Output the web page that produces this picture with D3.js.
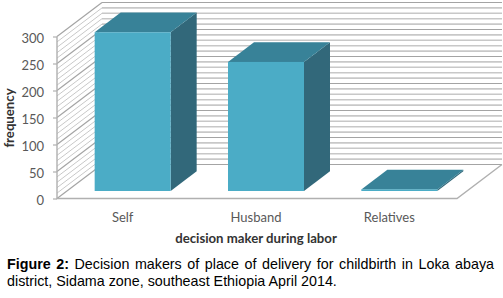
<!DOCTYPE html>
<html>
<head>
<meta charset="utf-8">
<script src="https://cdnjs.cloudflare.com/ajax/libs/d3/7.8.5/d3.min.js"></script>
<style>
html, body { margin: 0; padding: 0; background: #fff; }
svg { display: block; }
.tick-label { font-family: Lato, "Open Sans", sans-serif; font-size: 13px; fill: #595959; }
.axis-title { font-family: Lato, "Open Sans", sans-serif; font-size: 13.2px; font-weight: bold; fill: #333; }
.caption { font-family: "Liberation Sans", Arial, sans-serif; font-size: 14.3px; fill: #000; }
</style>
</head>
<body>
<div id="chart"></div>
<script>
var categories = ["Self", "Husband", "Relatives"];
var frequency = [294, 239, 3];
var yTicks = [0, 50, 100, 150, 200, 250, 300];
var gridValues = d3.range(0, 301, 10);

var width = 503, height = 298;
var depthX = 45, depthY = 34;       // how far the back wall sits from the front axis
var barDepth = 26, barInset = 9;    // bar depth and its distance from the front edge
var barWidth = 76;
var slope = depthY / depthX;

var x = d3.scaleBand().domain(categories).range([57, 457]);
var y = d3.scaleLinear().domain([0, 300]).range([198.5, 36.5]);

var svg = d3.select("#chart").append("svg").attr("width", width).attr("height", height);

var defs = svg.append("defs");
defs.append("filter").attr("id", "soft").append("feGaussianBlur").attr("stdDeviation", 0.35);

var chart = svg.append("g").attr("filter", "url(#soft)");

function gridColor(d) { return d % 50 === 0 ? "#a4a4a4" : "#c8c8c8"; }
function gridWidth(d) { return d % 50 === 0 ? 1.2 : 1.6; }

// back wall
chart.append("g").selectAll("line").data(gridValues).join("line")
    .attr("x1", x.range()[0] + depthX).attr("x2", x.range()[1] + depthX)
    .attr("y1", function (d) { return y(d) - depthY; })
    .attr("y2", function (d) { return y(d) - depthY; })
    .attr("stroke", gridColor).attr("stroke-width", gridWidth);

// left wall
chart.append("g").selectAll("line").data(gridValues).join("line")
    .attr("x1", x.range()[0]).attr("x2", x.range()[0] + depthX)
    .attr("y1", function (d) { return y(d); })
    .attr("y2", function (d) { return y(d) - depthY; })
    .attr("stroke", gridColor).attr("stroke-width", function (d) { return d % 50 === 0 ? 1.2 : 1; });

// floor outline and wall edges
var x0 = x.range()[0], x1 = x.range()[1], y0 = y(0), yTop = y(300);
chart.append("path")
    .attr("d", "M" + x0 + "," + yTop + "V" + y0 + "H" + x1 + "L" + (x1 + depthX) + "," + (y0 - depthY))
    .attr("fill", "none").attr("stroke", "#b0b0b0").attr("stroke-width", 1.4);

// bars
var bars = chart.append("g").selectAll("g").data(categories).join("g");

function barLeft(c) { return x(c) + x.bandwidth() / 2 - barWidth / 2 + barInset; }
function barBase() { return y(0) - 7.5; }
function barTop(c, i) { return y(frequency[i]) - 7.5; }

bars.append("path") // side
    .attr("fill", "#31687a")
    .attr("d", function (c, i) {
        var r = barLeft(c) + barWidth;
        return "M" + r + "," + barBase() + "V" + barTop(c, i)
            + "l" + barDepth + "," + (-barDepth * slope)
            + "V" + (barBase() - barDepth * slope) + "Z";
    });

bars.append("path") // top
    .attr("fill", "#378298")
    .attr("d", function (c, i) {
        var l = barLeft(c), t = barTop(c, i);
        return "M" + l + "," + t + "h" + barWidth
            + "l" + barDepth + "," + (-barDepth * slope)
            + "h" + (-barWidth) + "Z";
    });

bars.append("rect") // front
    .attr("fill", "#4bacc6")
    .attr("x", barLeft)
    .attr("y", barTop)
    .attr("width", barWidth)
    .attr("height", function (c, i) { return barBase() - barTop(c, i); });

// axes
var yAxis = d3.axisLeft(y).tickValues(yTicks).tickSize(4).tickPadding(9);
var yAxisG = svg.append("g").attr("transform", "translate(" + x0 + ",0)").call(yAxis);
yAxisG.select(".domain").remove();
yAxisG.selectAll("line").attr("stroke", "#b0b0b0").attr("stroke-width", 1.2);
yAxisG.selectAll("text").attr("class", "tick-label").attr("y", 1.5);
yAxisG.attr("font-family", null).attr("font-size", null);

svg.append("g").selectAll("text").data(categories).join("text")
    .attr("class", "tick-label")
    .attr("x", function (c) { return x(c) + x.bandwidth() / 2 - 1; })
    .attr("y", 222)
    .attr("text-anchor", "middle")
    .text(function (c) { return c; });

svg.append("text").attr("class", "axis-title")
    .attr("x", 256).attr("y", 243).attr("text-anchor", "middle")
    .text("decision maker during labor");

svg.append("text").attr("class", "axis-title")
    .attr("transform", "translate(14,118) rotate(-90)")
    .attr("text-anchor", "middle")
    .text("frequency");

// caption
var line1 = svg.append("text").attr("class", "caption").attr("x", 7).attr("y", 269);
line1.append("tspan").attr("font-weight", "bold").text("Figure 2:");
line1.append("tspan").text(" Decision makers of place of delivery for childbirth in Loka abaya");
var extra = (487 - line1.node().getComputedTextLength()) / 12;
line1.style("word-spacing", extra + "px");

svg.append("text").attr("class", "caption").attr("x", 7).attr("y", 286)
    .text("district, Sidama zone, southeast Ethiopia April 2014.");
</script>
</body>
</html>
